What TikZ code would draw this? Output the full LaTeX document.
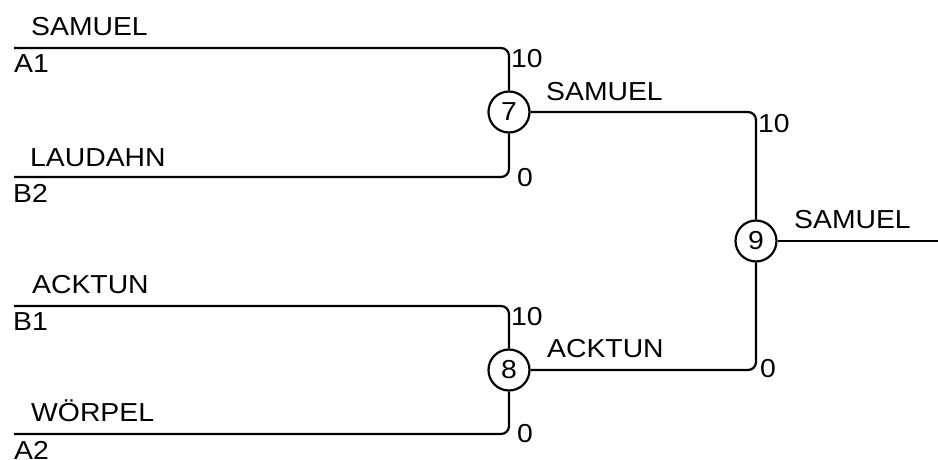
\documentclass[tikz,border=0pt]{standalone}
\usepackage{fontspec}
\setmainfont{Liberation Sans}[FakeStretch=1.09]
\begin{document}
\begin{tikzpicture}[x=1pt,y=-1pt,
  wire/.style={line width=2.2pt, rounded corners=8pt},
  match/.style={draw, circle, line width=2.2pt, minimum size=41pt, inner sep=0pt, font=\fontsize{26}{30}\selectfont},
  lbl/.style={anchor=base west, inner sep=0pt, font=\fontsize{26}{30}\selectfont}]
\useasboundingbox (0,0) rectangle (938,460);
% match nodes
\node[match] (c7) at (509,112) {7};
\node[match] (c8) at (509,370) {8};
\node[match] (c9) at (756,241) {9};
% entry points
\coordinate (a1) at (14,48);
\coordinate (b2) at (14,177);
\coordinate (b1) at (14,306);
\coordinate (a2) at (14,434);
\coordinate (out) at (938,241);
% connectors
\draw[wire] (a1) -| (c7);
\draw[wire] (b2) -| (c7);
\draw[wire] (b1) -| (c8);
\draw[wire] (a2) -| (c8);
\draw[wire] (c7) -| (c9);
\draw[wire] (c8) -| (c9);
\draw[wire] (c9) -- (out);
% left labels
\node[lbl] (tSam) at (31,36) {SAMUEL};
\node[lbl] (tA1) at (14,73) {A1};
\node[lbl] (tLau) at (30,166) {LAUDAHN};
\node[lbl] (tB2) at (13,202) {B2};
\node[lbl] (tAck) at (32,293) {ACKTUN};
\node[lbl] (tB1) at (13,330) {B1};
\node[lbl] (tWoe) at (31,421) {WÖRPEL};
\node[lbl] (tA2) at (14,459) {A2};
% winners
\node[lbl] (wSam) at (546,101) {SAMUEL};
\node[lbl] (wAck) at (547,357) {ACKTUN};
\node[lbl] (wFin) at (794,228) {SAMUEL};
% scores
\node[lbl] (s7a) at (511,67) {10};
\node[lbl] (s7b) at (517,186) {0};
\node[lbl] (s8a) at (511,325) {10};
\node[lbl] (s8b) at (517,442) {0};
\node[lbl] (s9a) at (758,132) {10};
\node[lbl] (s9b) at (760,377) {0};
\end{tikzpicture}
\end{document}
